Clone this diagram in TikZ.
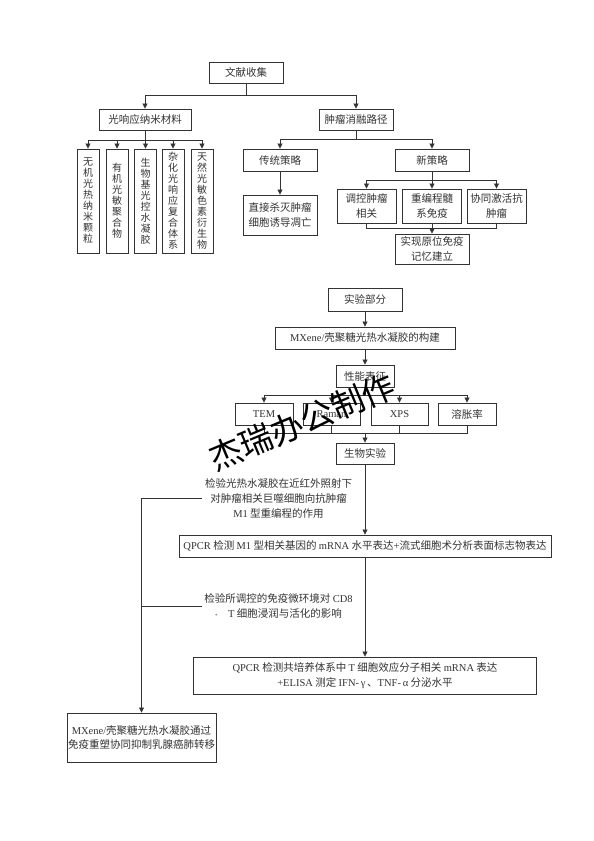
\documentclass[tikz,border=0pt]{standalone}
\usepackage{fontspec}
\setmainfont{Noto Sans CJK SC}
\newfontfamily\lat{Liberation Serif}
\newfontfamily\wmfont{Noto Sans CJK SC}
\usetikzlibrary{arrows.meta}
\definecolor{ink}{HTML}{333333}
\begin{document}
\begin{tikzpicture}[x=1pt,y=-1pt,
  bx/.style={draw=ink, line width=0.9pt, inner sep=0pt, align=center, text=ink,
    font=\fontsize{10.5}{14.5}\selectfont},
  vbx/.style={bx, minimum width=22pt, minimum height=104pt, font=\fontsize{10}{11}\selectfont},
  lbl/.style={inner sep=0pt, align=center, text=ink, font=\fontsize{10.5}{15}\selectfont},
  ln/.style={draw=ink, line width=0.8pt},
  arr/.style={ln, -{Triangle[length=5pt,width=5pt]}}]
\useasboundingbox (0,0) rectangle (594,841);
\fill[white] (0,0) rectangle (594,841);

% ---------- upper tree ----------
\node[bx, minimum width=74pt, minimum height=21pt] (wx) at (246,72.5) {文献收集};
\node[bx, minimum width=92pt, minimum height=21pt] (gx) at (145,119.5) {光响应纳米材料};
\node[bx, minimum width=74pt, minimum height=21pt] (zl) at (356,119.5) {肿瘤消融路径};

\node[vbx] (v1) at (88,201) {无\\机\\光\\热\\纳\\米\\颗\\粒};
\node[vbx] (v2) at (117,201) {有\\机\\光\\敏\\聚\\合\\物};
\node[vbx] (v3) at (145.5,201) {生\\物\\基\\光\\控\\水\\凝\\胶};
\node[vbx] (v4) at (173,201) {杂\\化\\光\\响\\应\\复\\合\\体\\系};
\node[vbx] (v5) at (202,201) {天\\然\\光\\敏\\色\\素\\衍\\生\\物};

\node[bx, minimum width=74pt, minimum height=22pt] (ct) at (280,160) {传统策略};
\node[bx, minimum width=74pt, minimum height=22pt] (xc) at (432,160) {新策略};
\node[bx, minimum width=74pt, minimum height=40pt] (zj) at (280,215) {直接杀灭肿瘤\\细胞诱导凋亡};
\node[bx, minimum width=59pt, minimum height=34pt] (tk) at (366.5,206) {调控肿瘤\\相关};
\node[bx, minimum width=59pt, minimum height=34pt] (cb) at (432,206) {重编程髓\\系免疫};
\node[bx, minimum width=59pt, minimum height=34pt] (xt) at (496.5,206) {协同激活抗\\肿瘤};
\node[bx, minimum width=74pt, minimum height=30pt] (sx) at (432,249) {实现原位免疫\\记忆建立};

\coordinate (j1) at (246,95);
\draw[ln] (wx) -- (j1);
\draw[arr] (j1) -| (gx.north);
\draw[arr] (j1) -| (zl.north);

\coordinate (j2) at (145,140);
\draw[ln] (gx) -- (j2);
\foreach \v in {v1,v2,v3,v4,v5} \draw[arr] (j2) -| (\v.north);

\coordinate (j3) at (356,139);
\draw[ln] (zl) -- (j3);
\draw[arr] (j3) -| (ct.north);
\draw[arr] (j3) -| (xc.north);
\draw[arr] (ct) -- (zj);

\coordinate (j4) at (432,180);
\draw[ln] (xc) -- (j4);
\foreach \v in {tk,cb,xt} \draw[arr] (j4) -| (\v.north);

\coordinate (j5) at (432,228);
\draw[ln] (tk.south) |- (j5);
\draw[ln] (xt.south) |- (j5);
\draw[ln] (cb) -- (j5);
\draw[arr] (j5) -- (sx);

% ---------- lower part ----------
\node[bx, minimum width=74pt, minimum height=23pt] (sy) at (365,299.5) {实验部分};
\node[bx, minimum width=180pt, minimum height=22pt] (mx) at (365,338) {{\lat MXene/}壳聚糖光热水凝胶的构建};
\node[bx, minimum width=58pt, minimum height=22pt] (xn) at (365,376) {性能表征};
\node[bx, minimum width=58pt, minimum height=22pt] (tem) at (264,414) {\lat TEM};
\node[bx, minimum width=57pt, minimum height=22pt] (ram) at (331.5,414) {\lat Raman};
\node[bx, minimum width=57pt, minimum height=22pt] (xps) at (399.5,414) {\lat XPS};
\node[bx, minimum width=58pt, minimum height=22pt] (rzl) at (467,414) {溶胀率};
\node[bx, minimum width=58pt, minimum height=21pt] (sw) at (365,453.5) {生物实验};

\draw[arr] (sy) -- (mx);
\draw[arr] (mx) -- (xn);
\coordinate (j6) at (365,395);
\draw[ln] (xn) -- (j6);
\foreach \v in {tem,ram,xps,rzl} \draw[arr] (j6) -| (\v.north);
\coordinate (j7) at (365,433);
\foreach \v in {tem,ram,xps,rzl} \draw[ln] (\v.south) |- (j7);
\draw[arr] (j7) -- (sw);

\node[lbl] (t1) at (278.5,498) {检验光热水凝胶在近红外照射下\\对肿瘤相关巨噬细胞向抗肿瘤\\{\lat M1} 型重编程的作用};
\node[bx, minimum width=372pt, minimum height=22pt] (q1) at (365,546)
  {{\lat QPCR} 检测 {\lat M1} 型相关基因的 {\lat mRNA} 水平表达{\lat +}流式细胞术分析表面标志物表达};
\node[lbl] (t2) at (278.5,606) {检验所调控的免疫微环境对 {\lat CD8}\\{\lat\tiny *}\quad {\lat T} 细胞浸润与活化的影响};
\node[bx, minimum width=343pt, minimum height=37pt] (q2) at (365,675.5)
  {{\lat QPCR} 检测共培养体系中 {\lat T} 细胞效应分子相关 {\lat mRNA} 表达\\{\lat +ELISA} 测定 {\lat IFN-\,γ}\,、{\lat TNF-\,α} 分泌水平};
\node[bx, minimum width=149pt, minimum height=49pt] (fn) at (141.5,737.5)
  {{\lat MXene/}壳聚糖光热水凝胶通过\\免疫重塑协同抑制乳腺癌肺转移};

\draw[arr] (sw) -- (q1);
\draw[arr] (q1) -- (q2);
\coordinate (c1) at (202,498);
\coordinate (c2) at (202,606);
\draw[arr] (c1) -| (fn.north);
\draw[ln] (c2) -- (c2 -| fn.north);

% ---------- watermark ----------
\node[inner sep=0pt, rotate=22.7, text=black, font=\wmfont\fontsize{33}{33}\selectfont] (wm) at (302,422) {杰瑞办公制作};
\end{tikzpicture}
\end{document}
